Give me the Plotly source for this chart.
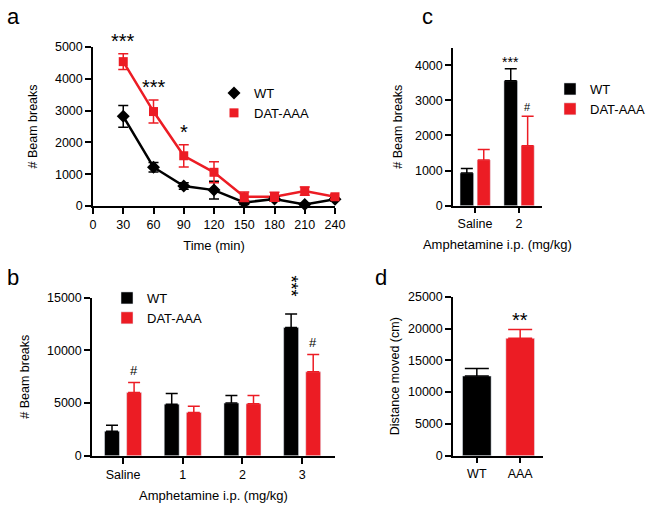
import plotly.graph_objects as go

W, H = 649, 507
BLACK = '#000000'
RED = '#EC1C24'

# panel a - time course
time_min = [30, 60, 90, 120, 150, 180, 210, 240]
a_wt = [2820, 1220, 630, 500, 110, 220, 50, 210]
a_wt_sem = [340, 150, 100, 280, 60, 70, 40, 50]
a_aaa = [4540, 2970, 1580, 1060, 290, 290, 470, 290]
a_aaa_sem = [250, 360, 350, 330, 150, 140, 130, 80]
a_sig = ['***', '***', '*', '', '', '', '', '']

# panel b - amphetamine dose response
b_dose = ['Saline', '1', '2', '3']
b_wt = [2340, 4900, 5000, 12180]
b_wt_sem = [570, 1020, 730, 1270]
b_aaa = [6000, 4110, 4940, 7970]
b_aaa_sem = [960, 600, 790, 1650]
b_sig_wt = ['', '', '', '***']
b_sig_aaa = ['#', '', '', '#']

# panel c
c_dose = ['Saline', '2']
c_wt = [930, 3560]
c_wt_sem = [130, 340]
c_aaa = [1300, 1710]
c_aaa_sem = [300, 840]
c_sig_wt = ['', '***']
c_sig_aaa = ['', '#']

# panel d
d_geno = ['WT', 'AAA']
d_dist = [12530, 18450]
d_sem = [1200, 1410]
d_sig = ['', '**']


def px_dom(a, b, n):
    return [a / n, b / n]


def py_dom(top, bottom):
    return [1 - bottom / H, 1 - top / H]


axis_style = dict(showline=True, linecolor=BLACK, linewidth=1.5, ticks='outside',
                  ticklen=6, tickwidth=1.5, tickcolor=BLACK, showgrid=False,
                  zeroline=False, automargin=False, tickformat='d',
                  tickfont=dict(size=12.5))
xt = dict(size=13)
yt = dict(size=12.5)

fig = go.Figure()

# ---- a ----
fig.add_trace(go.Scatter(x=time_min, y=a_wt, mode='lines', line=dict(color=BLACK, width=2.5),
                         showlegend=False, cliponaxis=False, xaxis='x', yaxis='y'))
fig.add_trace(go.Scatter(x=time_min, y=a_aaa, mode='lines', line=dict(color=RED, width=2.5),
                         showlegend=False, cliponaxis=False, xaxis='x', yaxis='y'))
fig.add_trace(go.Scatter(x=time_min, y=a_wt, mode='markers', name='WT',
                         marker=dict(symbol='diamond', size=10, color=BLACK),
                         error_y=dict(type='data', array=a_wt_sem, color=BLACK, thickness=1.5, width=5),
                         cliponaxis=False, legend='legend', xaxis='x', yaxis='y'))
fig.add_trace(go.Scatter(x=time_min, y=a_aaa, mode='markers', name='DAT-AAA',
                         marker=dict(symbol='square', size=9, color=RED),
                         error_y=dict(type='data', array=a_aaa_sem, color=RED, thickness=1.5, width=5),
                         cliponaxis=False, legend='legend', xaxis='x', yaxis='y'))

# ---- b ----
fig.add_trace(go.Bar(x=b_dose, y=b_wt, name='WT', marker_color=BLACK, offset=-0.31, width=0.25,
                     error_y=dict(type='data', array=b_wt_sem, arrayminus=[0] * len(b_wt),
                                  symmetric=False, color=BLACK, thickness=1.5, width=6),
                     legend='legend2', xaxis='x2', yaxis='y2'))
fig.add_trace(go.Bar(x=b_dose, y=b_aaa, name='DAT-AAA', marker_color=RED, offset=0.06, width=0.25,
                     error_y=dict(type='data', array=b_aaa_sem, arrayminus=[0] * len(b_aaa),
                                  symmetric=False, color=RED, thickness=1.5, width=6),
                     legend='legend2', xaxis='x2', yaxis='y2'))

# ---- c ----
fig.add_trace(go.Bar(x=c_dose, y=c_wt, name='WT', marker_color=BLACK, offset=-0.34, width=0.31,
                     error_y=dict(type='data', array=c_wt_sem, arrayminus=[0] * len(c_wt),
                                  symmetric=False, color=BLACK, thickness=1.5, width=6),
                     legend='legend3', xaxis='x3', yaxis='y3'))
fig.add_trace(go.Bar(x=c_dose, y=c_aaa, name='DAT-AAA', marker_color=RED, offset=0.05, width=0.30,
                     error_y=dict(type='data', array=c_aaa_sem, arrayminus=[0] * len(c_aaa),
                                  symmetric=False, color=RED, thickness=1.5, width=6),
                     legend='legend3', xaxis='x3', yaxis='y3'))

# ---- d ----
for i, col in enumerate([BLACK, RED]):
    fig.add_trace(go.Bar(x=[d_geno[i]], y=[d_dist[i]], marker_color=col, offset=-0.33, width=0.66,
                         error_y=dict(type='data', array=[d_sem[i]], arrayminus=[0],
                                      symmetric=False, color=col, thickness=1.5, width=12),
                         showlegend=False, xaxis='x4', yaxis='y4'))

ann = []
for i, s in enumerate(a_sig):
    if s:
        ann.append(dict(x=time_min[i], y=a_aaa[i] + a_aaa_sem[i], text=s, xref='x', yref='y',
                        showarrow=False, yanchor='bottom', yshift=0, font=dict(size=20)))
for i, s in enumerate(b_sig_wt):
    if s:
        ann.append(dict(x=i - 0.31 + 0.125, y=b_wt[i] + b_wt_sem[i], text=s, xref='x2', yref='y2',
                        showarrow=False, yanchor='bottom', yshift=16, textangle=90,
                        font=dict(size=18)))
for i, s in enumerate(b_sig_aaa):
    if s:
        ann.append(dict(x=i + 0.06 + 0.125, y=b_aaa[i] + b_aaa_sem[i], text=s, xref='x2', yref='y2',
                        showarrow=False, yanchor='bottom', yshift=2, font=dict(size=13)))
for i, s in enumerate(c_sig_wt):
    if s:
        ann.append(dict(x=i - 0.34 + 0.155, y=c_wt[i] + c_wt_sem[i], text=s, xref='x3', yref='y3',
                        showarrow=False, yanchor='bottom', yshift=-3, font=dict(size=14)))
for i, s in enumerate(c_sig_aaa):
    if s:
        ann.append(dict(x=i + 0.05 + 0.15, y=c_aaa[i] + c_aaa_sem[i], text=s, xref='x3', yref='y3',
                        showarrow=False, yanchor='bottom', yshift=1, font=dict(size=11)))
for i, s in enumerate(d_sig):
    if s:
        ann.append(dict(x=i, y=d_dist[i] + d_sem[i], text=s, xref='x4', yref='y4',
                        showarrow=False, yanchor='bottom', yshift=-4, font=dict(size=20)))

for lab, x, y in [('a', 5, 2), ('b', 5, 263), ('c', 420, 2), ('d', 373, 263)]:
    ann.append(dict(text=lab, x=x / W, y=1 - y / H, xref='paper', yref='paper', xanchor='left',
                    yanchor='top', showarrow=False, font=dict(size=22)))

fig.update_layout(
    width=W, height=H, margin=dict(l=0, r=0, t=0, b=0, autoexpand=False),
    paper_bgcolor='white', plot_bgcolor='white',
    font=dict(family='Liberation Sans, Arial, sans-serif', size=12, color=BLACK),
    barmode='overlay',
    xaxis=dict(axis_style, domain=px_dom(93, 335, W), range=[0, 240], dtick=30,
               title=dict(text='Time (min)', standoff=10, font=xt), anchor='y'),
    yaxis=dict(axis_style, domain=py_dom(47, 206), range=[0, 5000], dtick=1000,
               title=dict(text='# Beam breaks', standoff=15, font=yt), anchor='x'),
    xaxis2=dict(axis_style, type='category', domain=px_dom(92, 335, W), range=[-0.52, 3.55],
                title=dict(text='Amphetamine i.p. (mg/kg)', standoff=10, font=xt), anchor='y2'),
    yaxis2=dict(axis_style, domain=py_dom(297.7, 455.8), range=[0, 15000], dtick=5000,
                title=dict(text='# Beam breaks', standoff=15, font=yt), anchor='x2'),
    xaxis3=dict(axis_style, type='category', domain=px_dom(453, 541.7, W), range=[-0.5, 1.52],
                title=dict(text='Amphetamine i.p. (mg/kg)', standoff=9, font=xt), anchor='y3'),
    yaxis3=dict(axis_style, domain=py_dom(47.7, 205.7), range=[0, 4500], dtick=1000,
                title=dict(text='# Beam breaks', standoff=10, font=yt), anchor='x3'),
    xaxis4=dict(axis_style, type='category', domain=px_dom(453, 542.7, W), range=[-0.55, 1.52],
                anchor='y4'),
    yaxis4=dict(axis_style, domain=py_dom(296.7, 455.7), range=[0, 25000], dtick=5000,
                title=dict(text='Distance moved (cm)', standoff=6, font=yt), anchor='x4'),
    legend=dict(x=214 / W, y=1 - 78 / H, xanchor='left', yanchor='top', bgcolor='rgba(0,0,0,0)',
                font=dict(size=13)),
    legend2=dict(x=107 / W, y=1 - 283 / H, xanchor='left', yanchor='top', bgcolor='rgba(0,0,0,0)',
                 font=dict(size=13), tracegroupgap=0),
    legend3=dict(x=550 / W, y=1 - 74 / H, xanchor='left', yanchor='top', bgcolor='rgba(0,0,0,0)',
                 font=dict(size=13)),
    annotations=ann,
)

# the page body has an 8px default margin; drop it so the figure sits at the origin
fig.write_html('out.html', config={'displayModeBar': False},
               post_script="document.body.style.margin='0';")
